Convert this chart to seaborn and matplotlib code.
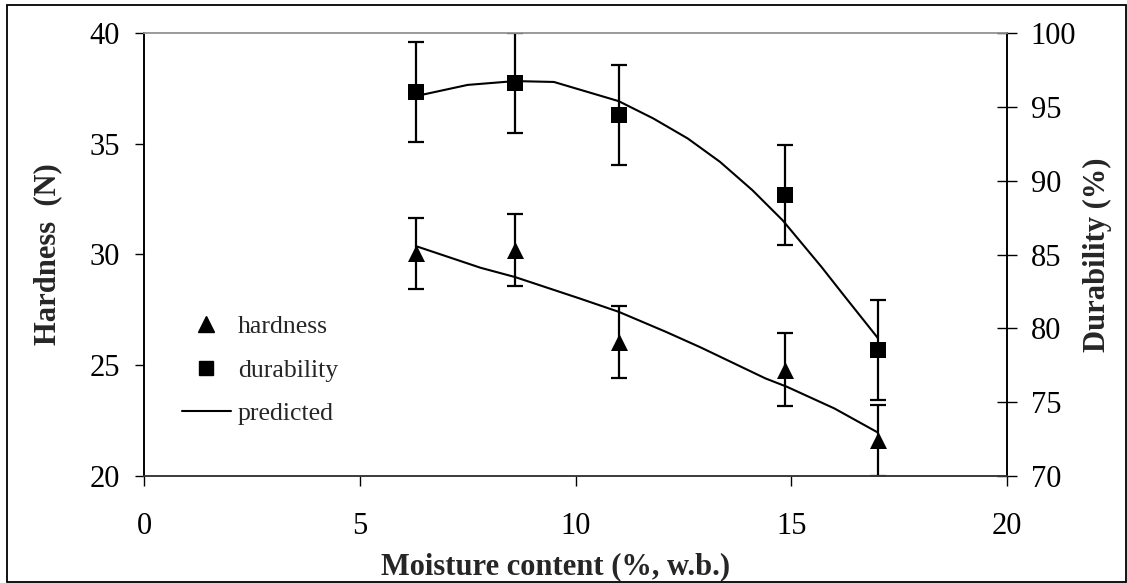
import matplotlib
matplotlib.use("Agg")
import matplotlib.pyplot as plt
from matplotlib.lines import Line2D
from matplotlib.patches import Rectangle
import seaborn as sns
import pandas as pd

# ---- data ----
moisture = [6.3, 8.6, 11.0, 14.85, 17.0]
hardness = [30.05, 30.2, 26.05, 24.8, 21.6]
hardness_err = [1.62, 1.63, 1.62, 1.63, 1.6]
durability = [96.0, 96.65, 94.45, 89.05, 78.5]
durability_err = [3.4, 3.4, 3.4, 3.4, 3.4]

pred_h_x = [6.3, 7.8, 8.6, 10.1, 11.0, 12.1, 12.9, 14.4, 14.9, 16.0, 17.0]
pred_h_y = [30.38, 29.4, 28.98, 28.01, 27.41, 26.5, 25.8, 24.4, 24.02, 23.04, 21.96]
pred_d_x = [6.3, 7.5, 8.6, 9.5, 11.0, 11.8, 12.6, 13.35, 14.1, 14.8, 15.7, 16.2, 17.0]
pred_d_y = [95.74, 96.5, 96.76, 96.7, 95.4, 94.23, 92.87, 91.28, 89.36, 87.32, 84.16, 82.3, 79.36]

x_ticks = [0, 5, 10, 15, 20]
h_ticks = [20, 25, 30, 35, 40]
d_ticks = [70, 75, 80, 85, 90, 95, 100]

sns.set_theme(style="white")
plt.rcParams["font.family"] = ["Liberation Serif", "DejaVu Serif"]

W, H = 1127, 583
fig = plt.figure(figsize=(W / 100, H / 100), dpi=100)
ax = fig.add_axes([144 / W, 1 - 475.7 / H, 863 / W, 442.4 / H])
ax2 = ax.twinx()

meas = pd.DataFrame({"x": moisture, "h": hardness, "d": durability})
ph = pd.DataFrame({"x": pred_h_x, "y": pred_h_y})
pd_ = pd.DataFrame({"x": pred_d_x, "y": pred_d_y})

# predicted lines
sns.lineplot(data=ph, x="x", y="y", ax=ax, color="black", lw=1.5,
             sort=False, estimator=None, legend=False)
sns.lineplot(data=pd_, x="x", y="y", ax=ax2, color="black", lw=1.5,
             sort=False, estimator=None, legend=False)

# error bars
ax.errorbar(moisture, hardness, yerr=hardness_err, fmt="none", ecolor="black",
            elinewidth=1.6, capsize=5.5, capthick=1.6)
ax2.errorbar(moisture, durability, yerr=durability_err, fmt="none", ecolor="black",
             elinewidth=1.6, capsize=5.5, capthick=1.6)

# markers
sns.scatterplot(data=meas, x="x", y="h", ax=ax, marker="^", s=150, color="black",
                edgecolor="black", linewidth=0, legend=False, zorder=5)
sns.scatterplot(data=meas, x="x", y="d", ax=ax2, marker="s", s=120, color="black",
                edgecolor="black", linewidth=0, legend=False, zorder=5)

ax.set_xlim(0, 20)
ax.set_ylim(20, 40)
ax2.set_ylim(70, 100)
ax.set_xticks(x_ticks)
ax.set_yticks(h_ticks)
ax2.set_yticks(d_ticks)

for a in (ax, ax2):
    for s in a.spines.values():
        s.set_linewidth(1.2)
        s.set_color("black")
    a.spines["top"].set_color("#9a9a9a")
    a.spines["bottom"].set_color("#3a3a3a")
    a.grid(False)

ax.tick_params(axis="y", direction="out", length=6.5, width=1, pad=11,
               labelsize=22, left=True, colors="black")
ax.tick_params(axis="x", direction="out", length=7, width=1, pad=19,
               labelsize=22, bottom=True, colors="black")
ax2.tick_params(axis="y", direction="inout", length=14, width=1, pad=10,
                labelsize=22, right=True, colors="black")

ax.set_xlabel("Moisture content (%, w.b.)", fontsize=22, fontweight="bold", va="center")
ax.xaxis.set_label_coords(0.4774, -(566.7 - 475.7) / 442.4)
ax.set_ylabel("Hardness  (N)", fontsize=22, fontweight="bold", va="center")
ax.yaxis.set_label_coords((48 - 144) / 863, 0.5)
ax2.set_ylabel("Durability (%)", fontsize=22, fontweight="bold", va="center", rotation=90)
ax2.yaxis.set_label_coords((1097 - 144) / 863, 0.5)

handles = [
    Line2D([], [], marker="^", color="black", ls="none", markersize=12),
    Line2D([], [], marker="s", color="black", ls="none", markersize=10),
    Line2D([], [], color="black", lw=1.5),
]
leg = ax.legend(handles, ["hardness", "durability", "predicted"], frameon=False,
                fontsize=18.5, loc="upper left", bbox_to_anchor=(182 / W, 1 - 315 / H),
                bbox_transform=fig.transFigure, borderaxespad=0, borderpad=0,
                handlelength=1.9, handletextpad=0.28, labelspacing=0.8)

fig.patches.append(Rectangle((7 / W, 1 - 582 / H), (1125.7 - 7) / W, (582 - 5) / H,
                             transform=fig.transFigure, fill=False, lw=1.3,
                             ec="black"))

fig.savefig("out.png", dpi=100, facecolor="white")
